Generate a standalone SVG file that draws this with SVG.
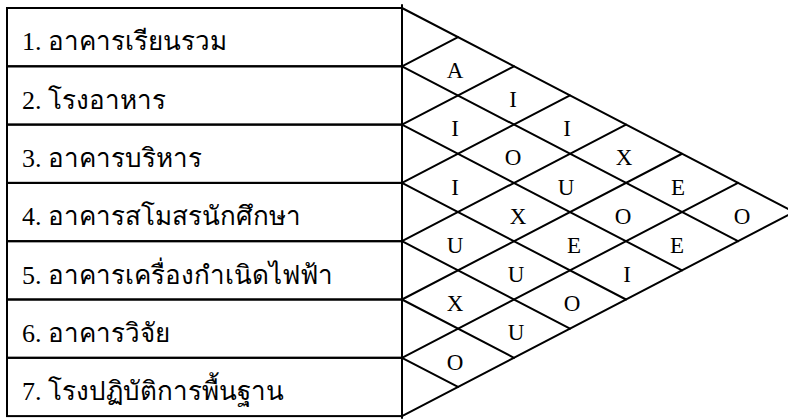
<svg xmlns="http://www.w3.org/2000/svg" width="788" height="419" viewBox="0 0 788 419">
<style>
.ln{stroke:#000;stroke-width:2;fill:none;stroke-linecap:round}
.lbl{font-family:"Liberation Serif","Noto Sans","DejaVu Sans",serif;font-size:26px;fill:#000}
.rel{font-family:"Liberation Serif",serif;font-size:23px;fill:#000;text-anchor:middle}
</style>
<rect width="788" height="419" fill="#fff"/>
<g id="n1"><rect class="ln" x="7" y="8" width="395" height="58.3"/><text class="lbl" x="22" y="50">1. อาคารเรียนรวม</text></g>
<g id="n2"><rect class="ln" x="7" y="66.3" width="395" height="58.3"/><text class="lbl" x="22" y="108.5">2. โรงอาหาร</text></g>
<g id="n3"><rect class="ln" x="7" y="124.6" width="395" height="58.3"/><text class="lbl" x="22" y="167">3. อาคารบริหาร</text></g>
<g id="n4"><rect class="ln" x="7" y="182.9" width="395" height="58.3"/><text class="lbl" x="22" y="225">4. อาคารสโมสรนักศึกษา</text></g>
<g id="n5"><rect class="ln" x="7" y="241.2" width="395" height="58.3"/><text class="lbl" x="22" y="283.5">5. อาคารเครื่องกำเนิดไฟฟ้า</text></g>
<g id="n6"><rect class="ln" x="7" y="299.5" width="395" height="58.3"/><text class="lbl" x="22" y="342">6. อาคารวิจัย</text></g>
<g id="n7"><rect class="ln" x="7" y="357.8" width="395" height="58.3"/><text class="lbl" x="22" y="400">7. โรงปฏิบัติการพื้นฐาน</text></g>
<g id="connectors">
<line class="ln" x1="402" y1="5" x2="402" y2="418"/>
<polyline class="ln" points="402,8 794,212.05 402,416.1"/>
<line class="ln" x1="402" y1="66.3" x2="738" y2="241.2"/>
<line class="ln" x1="402" y1="124.6" x2="682" y2="270.35"/>
<line class="ln" x1="402" y1="182.9" x2="626" y2="299.5"/>
<line class="ln" x1="402" y1="241.2" x2="570" y2="328.65"/>
<line class="ln" x1="402" y1="299.5" x2="514" y2="357.8"/>
<line class="ln" x1="402" y1="357.8" x2="458" y2="386.95"/>
<line class="ln" x1="402" y1="66.3" x2="458" y2="37.15"/>
<line class="ln" x1="402" y1="124.6" x2="514" y2="66.3"/>
<line class="ln" x1="402" y1="182.9" x2="570" y2="95.45"/>
<line class="ln" x1="402" y1="241.2" x2="626" y2="124.6"/>
<line class="ln" x1="402" y1="299.5" x2="682" y2="153.75"/>
<line class="ln" x1="402" y1="357.8" x2="738" y2="182.9"/>
</g>
<g id="ratings">
<text class="rel" x="455" y="78">A</text>
<text class="rel" x="455" y="136.3">I</text>
<text class="rel" x="455" y="194.6">I</text>
<text class="rel" x="455" y="252.9">U</text>
<text class="rel" x="455" y="311.2">X</text>
<text class="rel" x="455" y="369.5">O</text>
<text class="rel" x="513" y="107.2">I</text>
<text class="rel" x="513" y="165.4">O</text>
<text class="rel" x="518" y="223.7">X</text>
<text class="rel" x="516" y="282">U</text>
<text class="rel" x="516" y="340.3">U</text>
<text class="rel" x="567" y="136.3">I</text>
<text class="rel" x="566" y="194.6">U</text>
<text class="rel" x="574" y="252.9">E</text>
<text class="rel" x="572" y="311.2">O</text>
<text class="rel" x="624" y="165.4">X</text>
<text class="rel" x="623" y="223.7">O</text>
<text class="rel" x="627" y="282">I</text>
<text class="rel" x="678" y="194.6">E</text>
<text class="rel" x="677" y="252.9">E</text>
<text class="rel" x="742" y="223.7">O</text>
</g>
</svg>
